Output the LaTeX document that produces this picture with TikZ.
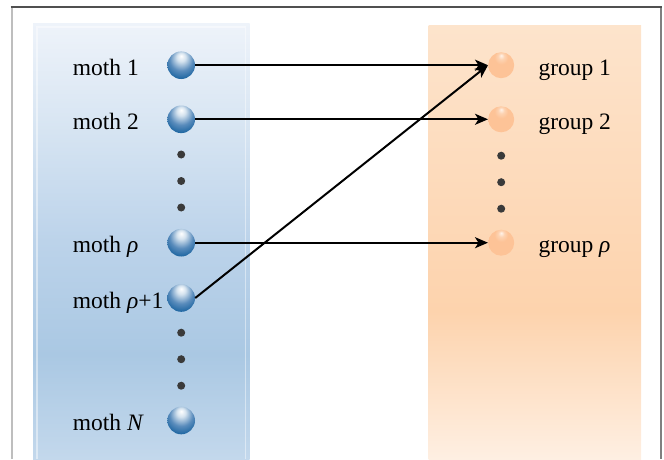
\documentclass[tikz,border=0pt]{standalone}
\usepackage{fontspec}
\setmainfont{Liberation Serif}
\usetikzlibrary{arrows.meta}
\definecolor{bpA}{HTML}{EEF3FA}
\definecolor{bpB}{HTML}{D9E6F3}
\definecolor{bpC}{HTML}{BCD3EA}
\definecolor{bpD}{HTML}{AAC8E3}
\definecolor{bpE}{HTML}{C3D8EC}
\definecolor{opA}{HTML}{FDE4CC}
\definecolor{opB}{HTML}{FDDCBE}
\definecolor{opC}{HTML}{FDD3AD}
\definecolor{opD}{HTML}{FEEFE2}
\definecolor{sbA}{HTML}{FFFFFF}
\definecolor{sbB}{HTML}{D5E3EF}
\definecolor{sbC}{HTML}{5A8CBC}
\definecolor{sbD}{HTML}{1B64A0}
\definecolor{sbE}{HTML}{09548F}
\definecolor{soA}{HTML}{FFF3EA}
\definecolor{soB}{HTML}{FDD3B2}
\definecolor{soC}{HTML}{FDC397}
\definecolor{dotc}{HTML}{3A3A3A}
\pgfdeclareverticalshading{bluepanel}{100bp}{color(0bp)=(bpE); color(25bp)=(bpE); color(37bp)=(bpD); color(50bp)=(bpC); color(64bp)=(bpB); color(75bp)=(bpA); color(100bp)=(bpA)}
\pgfdeclareverticalshading{orangepanel}{100bp}{color(0bp)=(opD); color(25bp)=(opD); color(42bp)=(opC); color(60bp)=(opB); color(75bp)=(opA); color(100bp)=(opA)}
\pgfdeclareradialshading{bluesphere}{\pgfpoint{0bp}{17bp}}{color(0bp)=(sbA); color(8bp)=(sbB); color(21bp)=(sbC); color(33bp)=(sbD); color(42bp)=(sbE); color(60bp)=(sbE)}
\pgfdeclareradialshading{orangesphere}{\pgfpoint{0bp}{19bp}}{color(0bp)=(soA); color(6bp)=(soB); color(13bp)=(soC); color(60bp)=(soC)}
\tikzset{
  bsph/.style={circle, minimum size=27.6pt, inner sep=0pt, shading=bluesphere},
  osph/.style={circle, minimum size=26pt, inner sep=0pt, shading=orangesphere},
  dotn/.style={circle, minimum size=8pt, inner sep=0pt, fill=dotc},
  lbl/.style={anchor=base west, inner sep=0pt, font=\fontsize{23.5}{28}\selectfont},
  arr/.style={line width=2pt, -{Stealth[length=13pt, width=11pt, inset=3.5pt]}},
}
\begin{document}
\begin{tikzpicture}[x=1pt, y=-1pt]
\useasboundingbox (0,0) rectangle (664,459);
% frame
\coordinate (ftl) at (11.5,7);
\coordinate (ftr) at (661,7);
\coordinate (fbl) at (11.5,459);
\coordinate (fbr) at (661,459);
\draw[line width=2pt, color={rgb,255:red,190;green,190;blue,190}] (ftl) -- (fbl);
\draw[line width=1.4pt, color={rgb,255:red,128;green,128;blue,128}] (ftr) -- (fbr);
\draw[line width=1.4pt, color={rgb,255:red,80;green,80;blue,80}] (10.5,7) -- (661.7,7);
% panels
\path[shading=bluepanel] (33,23) rectangle (249.5,459);
\draw[white, opacity=0.45, line width=1.5pt] (37,459) -- (37,27) -- (245.5,27) -- (245.5,459);
\path[shading=orangepanel] (428.7,25) rectangle (641,459);
% moth spheres
\node[bsph] (m1) at (181.2,65.2) {};
\node[bsph] (m2) at (181.2,119.3) {};
\node[bsph] (m3) at (181.2,242.7) {};
\node[bsph] (m4) at (181.2,298) {};
\node[bsph] (m5) at (181.2,420.5) {};
\node[dotn] (bd1) at (181.2,154.5) {};
\node[dotn] (bd2) at (181.2,181) {};
\node[dotn] (bd3) at (181.2,207.5) {};
\node[dotn] (bd4) at (181.2,332.7) {};
\node[dotn] (bd5) at (181.2,359.2) {};
\node[dotn] (bd6) at (181.2,385.7) {};
% group spheres
\node[osph] (g1) at (501.2,65.2) {};
\node[osph] (g2) at (501.2,119.3) {};
\node[osph] (g3) at (501.2,242.7) {};
\node[dotn] (od1) at (501.2,155.7) {};
\node[dotn] (od2) at (501.2,182.2) {};
\node[dotn] (od3) at (501.2,208.7) {};
% labels
\node[lbl] (lm1) at (72.7,75.2) {moth 1};
\node[lbl] (lm2) at (72.7,129.3) {moth 2};
\node[lbl] (lm3) at (72.7,252.7) {moth \textit{ρ}};
\node[lbl] (lm4) at (72.7,308) {moth \textit{ρ}+1};
\node[lbl] (lm5) at (72.7,430.5) {moth \textit{N}};
\node[lbl] (lg1) at (538.3,75.2) {group 1};
\node[lbl] (lg2) at (538.3,129.3) {group 2};
\node[lbl] (lg3) at (538.3,252.7) {group \textit{ρ}};
% arrows
\draw[arr] (m1.east) -- (g1.west);
\draw[arr] (m2.east) -- (g2.west);
\draw[arr] (m3.east) -- (g3.west);
\draw[arr] (m4.east) -- (g1.west);
\end{tikzpicture}
\end{document}
